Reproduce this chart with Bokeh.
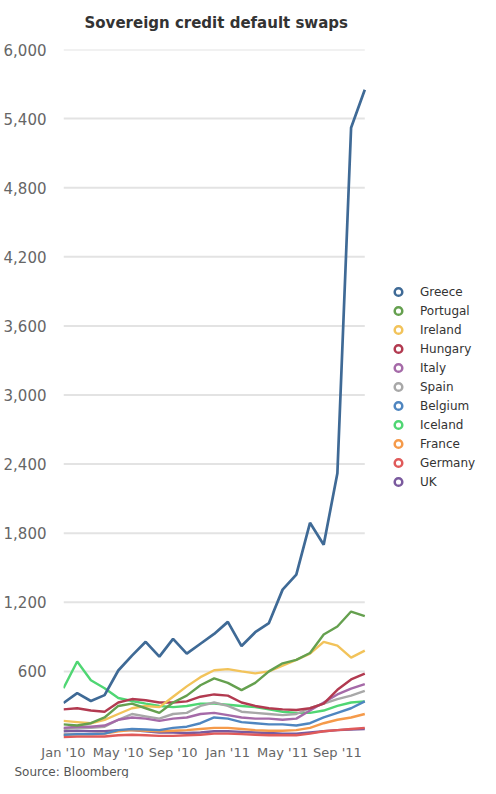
from bokeh.plotting import figure
from bokeh.models import Range1d, FixedTicker, Legend, LegendItem, Title, NumeralTickFormatter
from bokeh.embed import file_html
from bokeh.resources import INLINE

months = ["Jan '10", "Feb '10", "Mar '10", "Apr '10", "May '10", "Jun '10", "Jul '10", "Aug '10",
          "Sep '10", "Oct '10", "Nov '10", "Dec '10", "Jan '11", "Feb '11", "Mar '11", "Apr '11",
          "May '11", "Jun '11", "Jul '11", "Aug '11", "Sep '11", "Oct '11", "Nov '11"]
x_tick_labels = ["Jan '10", "May '10", "Sep '10", "Jan '11", "May '11", "Sep '11"]
y_ticks = [600, 1200, 1800, 2400, 3000, 3600, 4200, 4800, 5400, 6000]

countries = ["Greece", "Portugal", "Ireland", "Hungary", "Italy", "Spain",
             "Belgium", "Iceland", "France", "Germany", "UK"]

greece   = [326, 411, 343, 394, 608, 737, 857, 728, 883, 754, 840, 925, 1030, 820, 940, 1020, 1310, 1440, 1890, 1700, 2320, 5320, 5650]
portugal = [140, 130, 150, 200, 300, 320, 280, 240, 330, 390, 480, 540, 500, 437, 500, 600, 670, 700, 760, 920, 990, 1120, 1080]
ireland  = [170, 160, 150, 180, 230, 280, 300, 290, 380, 470, 550, 610, 620, 600, 583, 600, 650, 700, 754, 857, 823, 720, 780]
hungary  = [270, 280, 260, 250, 330, 360, 350, 330, 330, 340, 380, 400, 390, 330, 300, 280, 270, 265, 280, 320, 440, 530, 580]
italy    = [110, 120, 120, 130, 180, 200, 190, 170, 190, 200, 230, 240, 220, 200, 190, 190, 180, 190, 260, 330, 400, 450, 490]
spain    = [100, 110, 110, 120, 180, 230, 210, 190, 230, 240, 300, 330, 300, 250, 240, 230, 220, 230, 280, 320, 360, 390, 430]
belgium  = [50, 55, 55, 60, 90, 100, 95, 90, 110, 120, 150, 200, 190, 160, 150, 140, 140, 130, 150, 200, 240, 280, 340]
iceland  = [454, 686, 523, 454, 369, 343, 320, 300, 290, 300, 320, 320, 310, 300, 290, 270, 250, 240, 240, 260, 300, 330, 340]
france   = [50, 55, 55, 60, 80, 90, 85, 80, 85, 90, 100, 110, 110, 100, 90, 85, 85, 90, 110, 150, 180, 200, 230]
germany  = [30, 35, 35, 35, 45, 50, 45, 40, 40, 45, 50, 60, 60, 55, 50, 45, 45, 45, 60, 80, 90, 100, 110]
uk       = [80, 85, 80, 80, 90, 90, 80, 70, 70, 65, 70, 80, 80, 75, 70, 65, 60, 60, 70, 80, 90, 95, 100]

series = [greece, portugal, ireland, hungary, italy, spain, belgium, iceland, france, germany, uk]
colors = ["#3f6a96", "#65a04f", "#f2c35a", "#b23a50", "#a56aa8", "#a8a8a8",
          "#4f86c0", "#4fd673", "#f59a4a", "#e05a5a", "#7a5a9e"]

x = list(range(len(months)))
FONT = "DejaVu Sans"
last = len(months) - 1

p = figure(width=480, height=778, output_backend="svg", toolbar_location=None,
           x_range=Range1d(0, 30.45), y_range=Range1d(0, 6000),
           min_border_left=0, min_border_right=0, min_border_top=0, min_border_bottom=0)
p.outline_line_color = None
p.background_fill_color = "white"

# titles: a thin spacer nearest the frame, the main title above it
spacer = Title(text=" ", text_font_size="1px", standoff=4)
p.add_layout(spacer, "above")
main_title = Title(text="Sovereign credit default swaps", align="left", offset=21,
                   text_font=FONT, text_font_size="15px", text_font_style="bold",
                   text_color="#333333", standoff=22)
p.add_layout(main_title, "above")

# axes
for ax in (p.xaxis, p.yaxis):
    ax.axis_line_color = None
    ax.major_tick_line_color = None
    ax.minor_tick_line_color = None
    ax.major_tick_out = 0
    ax.major_tick_in = 0
    ax.minor_tick_out = 0
    ax.major_label_text_font = FONT
    ax.major_label_text_color = "#666666"

p.yaxis.ticker = FixedTicker(ticks=y_ticks)
p.yaxis.formatter = NumeralTickFormatter(format="0,0")
p.yaxis.major_label_standoff = 17
p.yaxis.major_label_text_font_size = "15px"

tick_pos = [months.index(m) for m in x_tick_labels]
p.xaxis.ticker = FixedTicker(ticks=tick_pos)
p.xaxis.major_label_overrides = {tp: lab for tp, lab in zip(tick_pos, x_tick_labels)}
p.xaxis.major_label_standoff = 4
p.xaxis.major_label_text_font_size = "13px"

p.xgrid.grid_line_color = None
p.ygrid.grid_line_color = None

# horizontal gridlines spanning only the data period
p.segment(x0=[0] * len(y_ticks), x1=[last] * len(y_ticks), y0=y_ticks, y1=y_ticks,
          line_color="#e3e3e3", line_width=2)

# lines, drawn so that Greece ends up on top
for vals, col in reversed(list(zip(series, colors))):
    p.line(x, vals, line_color=col, line_width=2.7 if vals is greece else 2.4)

# legend with ring markers only (zero-size proxies on the last points)
items = []
for name, vals, col in zip(countries, series, colors):
    r = p.scatter(x=[last], y=[vals[-1]], marker="circle", size=0, fill_color="white",
                  line_color=col, line_width=2.5)
    items.append(LegendItem(label=name, renderers=[r]))

legend = Legend(items=items, location=(325, 249), orientation="vertical",
                glyph_width=20, glyph_height=19, label_height=19, spacing=0,
                label_standoff=12, padding=0, margin=0,
                border_line_color=None, background_fill_alpha=0,
                label_text_font=FONT, label_text_font_size="12px",
                label_text_color="#333333")
p.add_layout(legend, "center")

src = Title(text="Source: Bloomberg", align="left", offset=-49,
            text_font=FONT, text_font_size="12px", text_font_style="normal",
            text_color="#555555", standoff=0)
p.add_layout(src, "below")

open("out.html", "w").write(file_html(p, INLINE))
